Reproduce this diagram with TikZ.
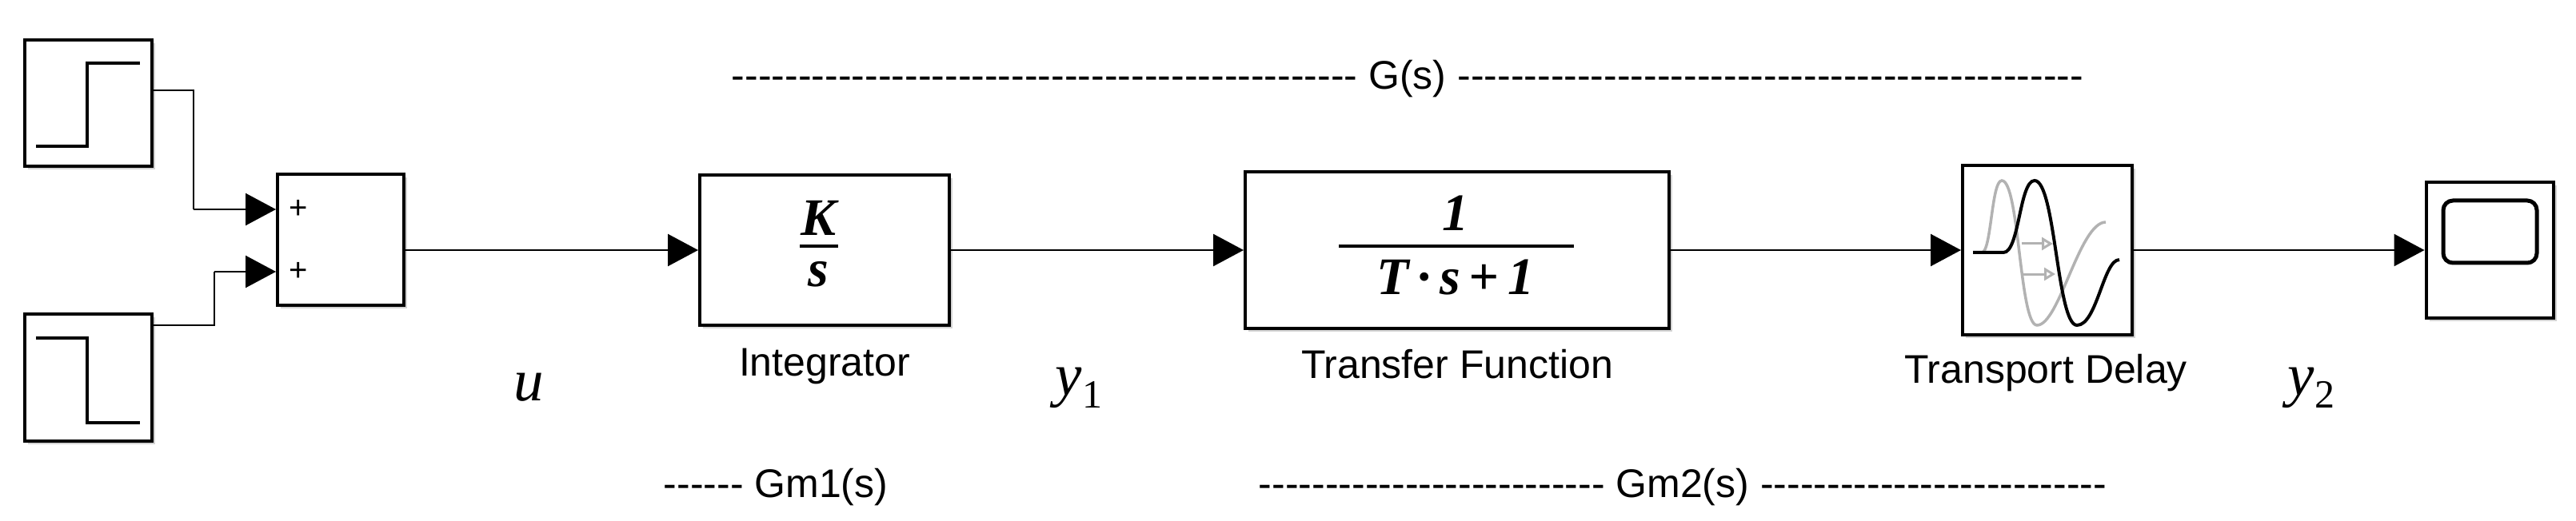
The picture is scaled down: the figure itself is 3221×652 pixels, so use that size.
\documentclass[tikz,border=0pt]{standalone}
\usepackage{fontspec}
\setmainfont{Liberation Sans}
\newfontfamily\tms{Liberation Serif}
\usetikzlibrary{arrows.meta,shadows}
\newcommand{\hy}[1]{\foreach \i in {1,...,#1}{-}}
\begin{document}
\begin{tikzpicture}[x=1pt,y=-1pt,
  blk/.style={draw,line width=4pt,fill=white,drop shadow={opacity=0.35,shadow xshift=4pt,shadow yshift=-4pt}},
  wire/.style={line width=2.5pt,-{Triangle[length=38pt,width=40pt]}},
  plain/.style={line width=2.5pt},
  lbl/.style={font=\fontsize{50}{60}\selectfont,inner sep=0pt},
  sig/.style={font=\tms\fontsize{75}{80}\selectfont\itshape,inner sep=0pt},
  fr/.style={font=\tms\fontsize{66}{70}\selectfont\bfseries\itshape,inner sep=0pt},
  icon/.style={line width=4.5pt}]
\useasboundingbox (0,0) rectangle (3221,652);
% blocks
\node[blk,minimum width=159pt,minimum height=158pt] (st1) at (110,129) {};
\node[blk,minimum width=159pt,minimum height=159pt] (st2) at (110,472) {};
\node[blk,minimum width=158pt,minimum height=163pt] (sum) at (426,300) {};
\node[blk,minimum width=312pt,minimum height=187pt] (int) at (1031,313) {};
\node[blk,minimum width=530pt,minimum height=195pt] (tf) at (1822,313) {};
\node[blk,minimum width=212pt,minimum height=211pt] (td) at (2560,313) {};
\node[blk,minimum width=159pt,minimum height=169pt] (sc) at (3113,313) {};
% step icons
\draw[icon] (45,183) -- (109,183) -- (109,79) -- (175,79);
\draw[icon] (45,423) -- (109,423) -- (109,529) -- (175,529);
% plus signs
\node[font=\fontsize{40}{40}\selectfont,inner sep=0pt] (p1) at (373,262) {+};
\node[font=\fontsize{40}{40}\selectfont,inner sep=0pt] (p2) at (373,340) {+};
% fractions
\node[fr] (kn) at (1023,273) {K};
\node[fr] (kd) at (1023,343) {s};
\draw[line width=4pt] (1000,308) -- (1048,308);
\node[fr] (tn) at (1820,267) {1};
\node[fr] (tdn) at (1820,347) {T\,·\,s\,+\,1};
\draw[line width=4pt] (1674,308) -- (1968,308);
% transport delay icon
\draw[gray!60,line width=3.5pt] (2467,316) -- (2478,316) .. controls (2490,316) and (2490,226) .. (2503,226) .. controls (2525,226) and (2525,407) .. (2547,407) .. controls (2575,407) and (2600,278) .. (2633,278);
\draw[gray!60,line width=3pt,-{Triangle[length=14pt,width=16pt,open]}] (2528,305) -- (2567,305);
\draw[gray!60,line width=3pt,-{Triangle[length=14pt,width=16pt,open]}] (2530,343) -- (2570,343);
\draw[black,line width=4pt] (2467,316) -- (2505,316) .. controls (2525,316) and (2525,226) .. (2544,226) .. controls (2570,226) and (2572,407) .. (2597,407) .. controls (2622,407) and (2630,325) .. (2650,325);
% scope icon
\draw[line width=5pt,rounded corners=12pt] (3055,251) rectangle (3172,329);
% connectors
\coordinate (a1) at (242,113);
\coordinate (a2) at (268,407);
\draw[plain] (st1.east |- a1) -| (242,262) coordinate (b1);
\draw[wire] (b1) -- (sum.west |- b1);
\draw[plain] (st2.east |- a2) -| (268,340) coordinate (b2);
\draw[wire] (b2) -- (sum.west |- b2);
\draw[wire] (sum.east |- int.west) -- (int.west);
\draw[wire] (int.east) -- (tf.west);
\draw[wire] (tf.east) -- (td.west);
\draw[wire] (td.east) -- (sc.west);
% labels
\node[lbl] (l1) at (1031,458) {Integrator};
\node[lbl] (l2) at (1822,456) {Transfer Function};
\node[lbl] (l3) at (2558,467) {Transport Delay};
\node[sig] (u) at (661,485) {u};
\node[sig] (y1) at (1349,485) {y\raisebox{-16pt}{\upshape\fontsize{50}{50}\selectfont 1}};
\node[sig] (y2) at (2890,485) {y\raisebox{-16pt}{\upshape\fontsize{50}{50}\selectfont 2}};
\node[lbl] (g) at (1760,99) {\hy{47} G(s) \hy{47}};
\node[lbl] (g1) at (970,610) {\hy{6} Gm1(s)};
\node[lbl] (g2) at (2104,610) {\hy{26} Gm2(s) \hy{26}};
\end{tikzpicture}
\end{document}
